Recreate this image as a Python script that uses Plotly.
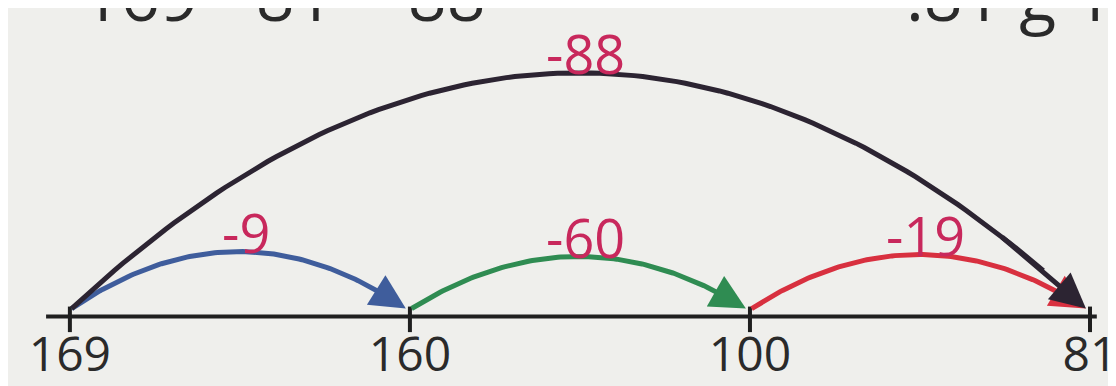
import numpy as np
import plotly.graph_objects as go

# Datos de la recta numerica ----------
marcas = [169, 160, 100, 81]
etiquetas_marcas = ["169", "160", "100", "81"]

# saltos: desde, hasta, texto
salto_desde = [169, 160, 100, 169]
salto_hasta = [160, 100, 81, 81]
salto_texto = ["-9", "-60", "-19", "-88"]

# estilo de cada salto (altura en px sobre la recta, color)
salto_altura = [58, 53, 55, 240]
salto_color = ["#3f5d9c", "#2f8c52", "#d8303f", "#2c2432"]
color_texto = "#c8285c"

pos = {v: i for i, v in enumerate(marcas)}

fig = go.Figure()

# recta numerica
fig.add_trace(go.Scatter(x=[-0.07, 3.02], y=[0, 0], mode="lines",
                         line=dict(color="#1f1f1f", width=4),
                         hoverinfo="skip"))
# marcas de la recta
xm, ym = [], []
for i in range(len(marcas)):
    xm += [i, i, None]
    ym += [10, -16, None]
fig.add_trace(go.Scatter(x=xm, y=ym, mode="lines", line=dict(color="#1f1f1f", width=4),
                         hoverinfo="skip"))

anotaciones = []
for a, b, txt, h, col in zip(salto_desde, salto_hasta, salto_texto, salto_altura, salto_color):
    x0 = pos[a] + 0.005
    x1 = pos[b] - 0.012
    t = np.linspace(0, 1, 120)
    xs = x0 + (x1 - x0) * t
    ys = 8 + h * 4 * t * (1 - t)
    linea = t <= 0.96
    base = np.where(t <= 0.92)[0][-1]
    fig.add_trace(go.Scatter(x=xs[linea], y=ys[linea], mode="lines",
                             line=dict(color=col, width=5),
                             hoverinfo="skip"))
    # punta de flecha
    anotaciones.append(dict(x=xs[-1], y=ys[-1], ax=xs[base], ay=ys[base],
                            xref="x", yref="y", axref="x", ayref="y",
                            text="", showarrow=True, arrowhead=2, arrowsize=1.4,
                            arrowwidth=5, arrowcolor=col))
    # texto del salto
    anotaciones.append(dict(x=(x0 + x1) / 2 + 0.02, y=8 + h + 20, xref="x", yref="y",
                            text=txt, showarrow=False,
                            font=dict(size=54, color=color_texto, family="Open Sans")))

# texto cortado en la parte superior (escaneo)
anotaciones.append(dict(x=72 / 1116, y=1.0, xref="paper", yref="paper", xanchor="left", yanchor="middle",
                        text="169 - 81 = 88", showarrow=False, yshift=14,
                        font=dict(size=68, color="#2a2a2a", family="Open Sans")))
anotaciones.append(dict(x=1.0, y=1.0, xref="paper", yref="paper", xanchor="right", yanchor="middle",
                        text=".81 g 16", showarrow=False, xshift=30, yshift=14,
                        font=dict(size=68, color="#2a2a2a", family="Open Sans")))

fig.update_layout(
    width=1116, height=386,
    margin=dict(l=0, r=0, t=0, b=56),
    paper_bgcolor="#efefec", plot_bgcolor="#efefec",
    showlegend=False,
    annotations=anotaciones,
    xaxis=dict(range=[-0.182, 3.10], tickmode="array", tickvals=list(range(len(marcas))),
               ticktext=etiquetas_marcas, ticks="", showgrid=False, zeroline=False, showline=False,
               ticklabelstandoff=-16,
               tickfont=dict(size=48, color="#2a2a2a", family="Open Sans"), fixedrange=True),
    yaxis=dict(range=[-22, 314], visible=False, fixedrange=True),
)

fig.write_html("out.html")
